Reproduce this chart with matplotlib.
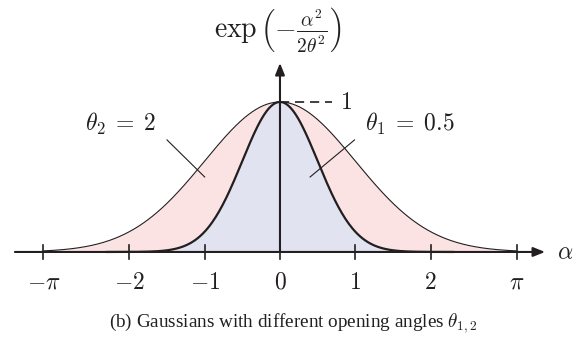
import numpy as np
import matplotlib.pyplot as plt

plt.rcParams['mathtext.fontset'] = 'cm'

# opening angles of the two curves
thetas = [0.5, 2.0]
theta_names = [r'$\theta_1\;=\;0.5$', r'$\theta_2\;=\;2$']
ticks = [-np.pi, -2, -1, 0, 1, 2, np.pi]
tick_labels = [r'$-\pi$', r'$-2$', r'$-1$', r'$0$', r'$1$', r'$2$', r'$\pi$']

ink = '#231f20'
pink = '#fbe3e4'
blue = '#e2e3f1'

def gauss(a, th):
    return np.exp(-a**2 / th)

fig = plt.figure(figsize=(5.87, 3.43), dpi=100)
ax = fig.add_axes([0, 0, 1, 1])
ax.set_xlim(-3.718, 4.077)
ax.set_ylim(-0.607, 1.68)
ax.axis('off')

a = np.linspace(-np.pi, np.pi, 400)
narrow = gauss(a, thetas[0])
wide = gauss(a, thetas[1])
ax.fill_between(a, 0, wide, color=pink, lw=0)
ax.fill_between(a, 0, narrow, color=blue, lw=0)
ax.plot(a, wide, color=ink, lw=0.8)
a1 = np.linspace(-2.3, 2.3, 300)
ax.plot(a1, gauss(a1, thetas[0]), color=ink, lw=1.6)

# axes with arrows
head = '-|>,head_length=0.7,head_width=0.28'
ax.annotate('', xy=(3.52, 0), xytext=(-3.52, 0),
            arrowprops=dict(arrowstyle=head, lw=1.5, color=ink, shrinkA=0, shrinkB=0))
ax.annotate('', xy=(0, 1.26), xytext=(0, 0),
            arrowprops=dict(arrowstyle=head, lw=1.5, color=ink, shrinkA=0, shrinkB=0))

for t, lab in zip(ticks, tick_labels):
    ax.plot([t, t], [-0.045, 0.045], color=ink, lw=1.2)
    ax.text(t, -0.12, lab, ha='center', va='top', fontsize=17, color=ink)

ax.text(3.68, 0, r'$\alpha$', ha='left', va='center', fontsize=17, color=ink)
ax.text(-0.03, 1.48, r'$\exp\left(-\frac{\alpha^2}{2\theta^2}\right)$',
        ha='center', va='center', fontsize=20, color=ink)

# peak marker
ax.plot([0, 0.69], [1, 1], color=ink, lw=1.2, ls=(0, (5.5, 3.5)))
ax.text(0.8, 1.0, r'$1$', ha='left', va='center', fontsize=17, color=ink)

# curve labels with leader lines
ax.text(-1.64, 0.853, theta_names[1], ha='right', va='center', fontsize=17, color=ink)
ax.plot([-1.5, -1.0], [0.747, 0.5], color=ink, lw=0.8)
ax.text(1.13, 0.853, theta_names[0], ha='left', va='center', fontsize=17, color=ink)
ax.plot([0.99, 0.40], [0.747, 0.5], color=ink, lw=0.8)

fig.text(0.5, 1 - 323/343, r'(b) Gaussians with different opening angles $\theta_{1,2}$',
         ha='center', va='center', fontsize=13.8, family='Liberation Serif', color=ink)

fig.savefig('out.png', dpi=100)
